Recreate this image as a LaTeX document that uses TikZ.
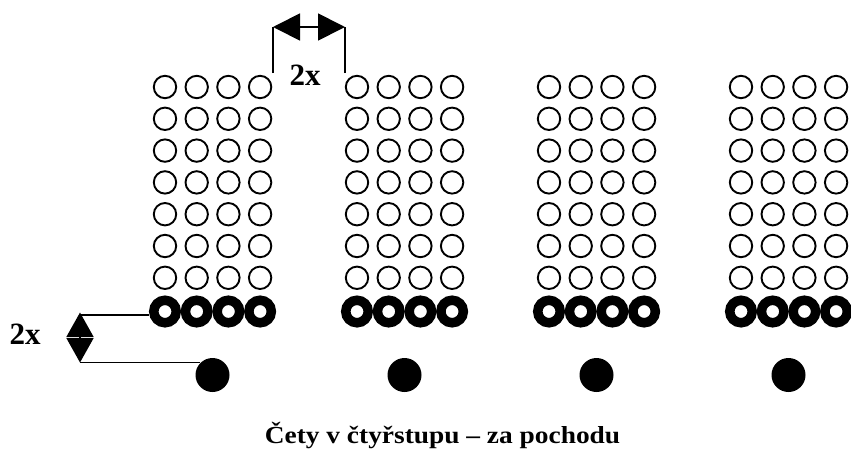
\documentclass[tikz,border=0pt]{standalone}
\usepackage{fontspec}
\setmainfont{Liberation Serif}
\usetikzlibrary{arrows.meta}
\tikzset{
  thinman/.style={circle,draw,line width=1.9pt,minimum size=22.4pt,inner sep=0pt},
  boldman/.style={circle,draw,line width=9.5pt,minimum size=22.5pt,inner sep=0pt},
  leader/.style={circle,fill=black,minimum size=34pt,inner sep=0pt},
  dimline/.style={line width=1.8pt},
  dimarrow/.style={line width=1.8pt,{Triangle[length=27pt,width=27pt]}-{Triangle[length=27pt,width=27pt]}},
  dimarrowv/.style={line width=1.8pt,{Triangle[length=24.5pt,width=27pt]}-{Triangle[length=24.5pt,width=27pt]}},
  lbl/.style={font=\bfseries\fontsize{31}{31}\selectfont,inner sep=0pt},
  captext/.style={font=\bfseries\fontsize{24.5}{24.5}\selectfont,inner sep=0pt,anchor=base}
}
\begin{document}
\begin{tikzpicture}[x=1pt,y=-1pt]
\useasboundingbox (0,0) rectangle (851,453);
\foreach \i in {0,...,3}{
  \foreach \k in {0,...,3}{
    \foreach \j in {0,...,6}{
      \node[thinman] (g\i r\j c\k) at ({165+192*\i+31.7*\k},{87+31.8*\j}) {};
    }
    \node[boldman] (g\i b\k) at ({165+192*\i+31.7*\k},311.5) {};
  }
  \node[leader] (g\i d) at ({165+192*\i+47.5},375) {};
}
% top dimension
\coordinate (ta) at (273,27);
\coordinate (tb) at (345,27);
\coordinate (ta2) at (273,73);
\coordinate (tb2) at (345,73);
\draw[dimline] (ta2) -- (ta);
\draw[dimline] (tb2) -- (tb);
\draw[dimarrow] (ta) -- (tb);
\node[lbl] (toplbl) at (305,75) {2x};
% left dimension
\coordinate (la) at (80,312.5);
\coordinate (lb) at (80,362.5);
\coordinate (la2) at (80,315);
\coordinate (lb2) at (80,362.5);
\coordinate (lbe) at (200,362.5);
\draw[dimline] (la2) -- (la2 -| g0b0.west);
\draw[dimline] (lb2) -- (lbe);
\draw[dimarrowv] (la) -- (lb);
\node[lbl] (leftlbl) at (25,334) {2x};
% caption
\node[captext] (caption) at (442.5,443) {\scalebox{1.118}[1]{Čety v čtyřstupu – za pochodu}};
\end{tikzpicture}
\end{document}
